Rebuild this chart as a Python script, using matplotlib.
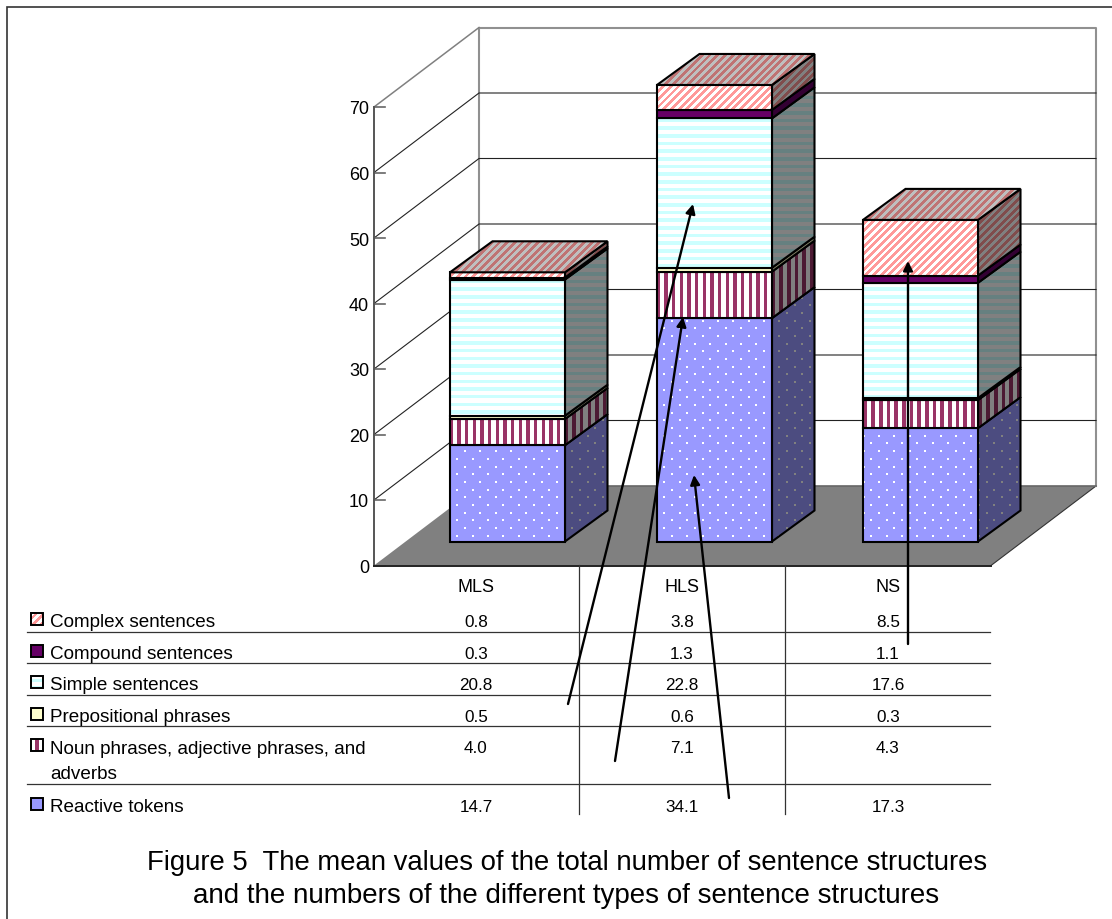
import numpy as np
import matplotlib
matplotlib.use('Agg')
import matplotlib.pyplot as plt
from matplotlib.patches import Polygon, Rectangle, FancyArrowPatch

plt.rcParams['font.family'] = ['Liberation Sans', 'DejaVu Sans']

groups = ['MLS', 'HLS', 'NS']
series = ['Reactive tokens', 'Noun phrases, adjective phrases, and\nadverbs', 'Prepositional phrases',
          'Simple sentences', 'Compound sentences', 'Complex sentences']
reactive = [14.7, 34.1, 17.3]
noun = [4.0, 7.1, 4.3]
prep = [0.5, 0.6, 0.3]
simple = [20.8, 22.8, 17.6]
compound = [0.3, 1.3, 1.1]
complex_ = [0.8, 3.8, 8.5]
values = [reactive, noun, prep, simple, compound, complex_]
y_ticks = [0, 10, 20, 30, 40, 50, 60, 70]

# fill colour, pattern colour, pattern kind
styles = [('#9999FF', '#FFFFFF', 'dots'), ('#993366', '#FFFFFF', 'vert'), ('#FFFFCC', None, None),
          ('#CCFFFF', '#FFFFFF', 'horiz'), ('#660066', None, None), ('#FF9999', '#FFFFFF', 'diag')]

W, H = 1112, 920
UNIT = 6.55
X0, Y0 = 374, 566.5     # front left corner of floor
DX, DY = 105, -79.5     # depth of the whole box
FLOOR_W = 617
BAR_DX, BAR_DY = 42.5, -31
BAR_Y = 542.5
BAR_X = [450, 657, 863]
BAR_W = 115
TILE = 7.67


def shade(col, k):
    if col is None:
        return None
    rgb = np.array(matplotlib.colors.to_rgb(col)) * k
    return matplotlib.colors.to_hex(rgb)


def texture(bg, fg, kind):
    yy, xx = np.mgrid[0:H, 0:W]
    if kind == 'dots':
        a = ((xx - 916) % (2 * TILE) < 2) & ((yy - 443) % (2 * TILE) < 2)
        b = ((xx - 916 - TILE) % (2 * TILE) < 2) & ((yy - 443 - TILE) % (2 * TILE) < 2)
        mask = a | b
    elif kind == 'vert':
        mask = xx % TILE < 4.2
    elif kind == 'horiz':
        mask = yy % TILE < 4.2
    elif kind == 'diag':
        mask = (xx + yy) % TILE < 3.8
    img = np.zeros((H, W, 3))
    img[:] = matplotlib.colors.to_rgb(bg)
    img[mask] = matplotlib.colors.to_rgb(fg)
    return img


def face(ax, pts, bg, fg, kind, lw=1.5):
    poly = Polygon(pts, closed=True, facecolor=bg, edgecolor='none', zorder=3)
    ax.add_patch(poly)
    if kind is not None:
        im = ax.imshow(texture(bg, fg, kind), extent=(0, W, H, 0), interpolation='nearest',
                       aspect='auto', zorder=3)
        im.set_clip_path(poly)
    ax.add_patch(Polygon(pts, closed=True, facecolor='none', edgecolor='black', lw=lw, zorder=3,
                         joinstyle='miter'))


fig = plt.figure(figsize=(W / 100, H / 100), dpi=100)
ax = fig.add_axes([0, 0, 1, 1])
ax.set_axis_off()

ax.add_patch(Rectangle((6.5, 8), 1200, 1000, facecolor='white', edgecolor='#333333', lw=1.2))

# floor and walls
fr = X0 + FLOOR_W
ax.add_patch(Polygon([(X0, Y0), (fr, Y0), (fr + DX, Y0 + DY), (X0 + DX, Y0 + DY)],
                     closed=True, facecolor='#808080', edgecolor='none'))
ax.plot([fr, fr + DX], [Y0, Y0 + DY], color='#333333', lw=0.8)
top = y_ticks[-1] * UNIT
ax.plot([X0 + DX, X0 + DX, fr + DX, fr + DX], [Y0 + DY, Y0 + DY - top, Y0 + DY - top, Y0 + DY],
        color='#909090', lw=1.5)
ax.plot([X0 + DX, fr + DX], [Y0 + DY, Y0 + DY], color='#666666', lw=1.2)
ax.plot([X0, X0 + DX], [Y0 - top, Y0 + DY - top], color='#808080', lw=1.1)
for v in y_ticks[1:-1]:
    y = Y0 - v * UNIT
    ax.plot([X0, X0 + DX, fr + DX], [y, y + DY, y + DY], color='#222222', lw=0.8)
for v in y_ticks:
    y = Y0 - v * UNIT
    ax.plot([X0, X0 + 11], [y, y], color='#666666', lw=1.2, zorder=2)
    ax.text(X0 - 5, y + 2, str(v), ha='right', va='center', fontsize=13, color='black')
ax.plot([X0, X0], [Y0, Y0 - top], color='#555555', lw=1.4)
ax.plot([X0, fr], [Y0, Y0], color='#222222', lw=1.4)

# bars
for i, x in enumerate(BAR_X):
    base = 0
    for j, vals in enumerate(values):
        bg, fg, kind = styles[j]
        y1 = BAR_Y - base * UNIT
        y2 = BAR_Y - (base + vals[i]) * UNIT
        side = [(x + BAR_W, y1), (x + BAR_W + BAR_DX, y1 + BAR_DY), (x + BAR_W + BAR_DX, y2 + BAR_DY), (x + BAR_W, y2)]
        face(ax, side, shade(bg, 0.5), shade(fg, 0.5), kind)
        face(ax, [(x, y1), (x + BAR_W, y1), (x + BAR_W, y2), (x, y2)], bg, fg, kind)
        base += vals[i]
        if j == len(values) - 1:
            lid = [(x, y2), (x + BAR_W, y2), (x + BAR_W + BAR_DX, y2 + BAR_DY), (x + BAR_DX, y2 + BAR_DY)]
            face(ax, lid, shade(bg, 0.75), shade(fg, 0.75), kind)

# data table
col_x = [476, 682, 888]
row_y = [806, 747, 716, 684, 653, 621]
rules = [633, 664, 696, 727, 785]
for y in rules:
    ax.plot([27, 990], [y, y], color='#333333', lw=0.9)
for x in [579, 785]:
    ax.plot([x, x], [566, 815], color='#333333', lw=0.9)
for x, g in zip(col_x, groups):
    ax.text(x, 588, g, ha='center', va='center', fontsize=13)
for j, name in enumerate(series):
    bg, fg, kind = styles[j]
    ky = row_y[j] - 1
    face(ax, [(31, ky - 6), (43, ky - 6), (43, ky + 6), (31, ky + 6)], bg, fg if kind != 'dots' else bg, kind, lw=1.4)
    ty = row_y[j] + 2 if j != 1 else 762
    ax.text(50, ty, name, ha='left', va='center', fontsize=13.6, linespacing=1.55)
    for x, v in zip(col_x, values[j]):
        ax.text(x, row_y[j] + 1.5, f'{v:.1f}', ha='center', va='center', fontsize=12.3)

# annotation arrows
arrows = [((568, 705), (693, 205)), ((615, 762), (683, 318)), ((729, 799), (694, 476)), ((908, 645), (908, 262))]
for a, b in arrows:
    ax.add_patch(FancyArrowPatch(a, b, arrowstyle='-|>', mutation_scale=14, color='black', lw=1.7,
                                 shrinkA=0, shrinkB=0, zorder=5))

ax.text(567.5, 863, 'Figure 5  The mean values of the total number of sentence structures', ha='center', va='center', fontsize=19.8)
ax.text(566, 896, 'and the numbers of the different types of sentence structures', ha='center', va='center', fontsize=20)

ax.set_xlim(0, W)
ax.set_ylim(H, 0)
fig.savefig('out.png', dpi=100)
